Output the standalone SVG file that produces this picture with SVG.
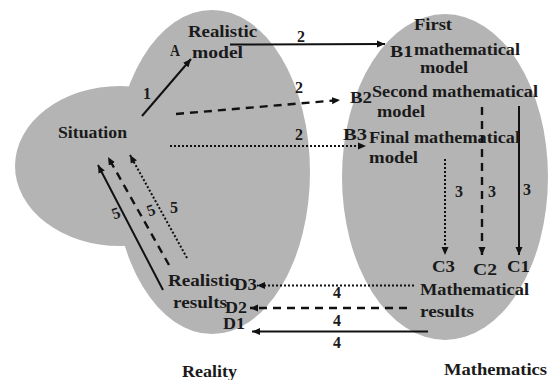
<svg xmlns="http://www.w3.org/2000/svg" width="551" height="380" viewBox="0 0 551 380">
<style>
text{font-family:"Liberation Serif","Times New Roman",serif;font-weight:bold;font-size:16px;fill:#1a1a1a}
.ln{stroke:#111;stroke-width:2;fill:none}
.da{stroke-dasharray:8 6;stroke-width:2.4}
.dt{stroke-dasharray:2 2}
.reg{fill:#b4b4b4}
</style>
<defs>
<marker id="ah" markerUnits="userSpaceOnUse" markerWidth="9" markerHeight="8" refX="8" refY="4" orient="auto"><path d="M0,0.5 L8,4 L0,7.5 z" fill="#111"/></marker>
</defs>
<rect width="551" height="380" fill="#fff"/>
<g id="reality">
<ellipse class="reg" cx="212" cy="172" rx="98" ry="162"/>
<ellipse class="reg" cx="120" cy="166" rx="105" ry="80"/>
</g>
<g id="mathematics">
<ellipse class="reg" cx="445" cy="177" rx="103" ry="163"/>
</g>
<g id="connectors">
<line class="ln" x1="142" y1="116" x2="191" y2="59" marker-end="url(#ah)"/>
<line class="ln" x1="230" y1="44.5" x2="385" y2="44" marker-end="url(#ah)"/>
<line class="ln da" x1="176" y1="114" x2="340" y2="100" marker-end="url(#ah)"/>
<line class="ln dt" x1="170" y1="146" x2="366" y2="146" marker-end="url(#ah)"/>
<line class="ln dt" x1="445" y1="159" x2="445" y2="255" marker-end="url(#ah)"/>
<line class="ln da" x1="482" y1="107" x2="482" y2="255" marker-end="url(#ah)"/>
<line class="ln" x1="519" y1="106" x2="519" y2="255" marker-end="url(#ah)"/>
<line class="ln dt" x1="414" y1="285.5" x2="257" y2="285.5" marker-end="url(#ah)"/>
<line class="ln da" x1="407" y1="308" x2="250" y2="308" marker-end="url(#ah)"/>
<line class="ln" x1="428" y1="331.5" x2="252" y2="331.5" marker-end="url(#ah)"/>
<line class="ln" x1="163" y1="290" x2="98" y2="165" marker-end="url(#ah)"/>
<line class="ln da" x1="169" y1="265" x2="108" y2="157" marker-end="url(#ah)"/>
<line class="ln dt" x1="187" y1="258" x2="130" y2="155" marker-end="url(#ah)"/>
</g>
<g id="node-realistic-model">
<text x="188" y="37" textLength="69" lengthAdjust="spacingAndGlyphs">Realistic</text>
<text x="192" y="58" textLength="51" lengthAdjust="spacingAndGlyphs">model</text>
<text x="170" y="56" textLength="10" lengthAdjust="spacingAndGlyphs">A</text>
</g>
<g id="node-situation">
<text x="58" y="138" textLength="69" lengthAdjust="spacingAndGlyphs">Situation</text>
</g>
<g id="node-first-model">
<text x="414" y="30" textLength="38" lengthAdjust="spacingAndGlyphs">First</text>
<text x="390" y="57" textLength="23" lengthAdjust="spacingAndGlyphs">B1</text>
<text x="414" y="55" textLength="106" lengthAdjust="spacingAndGlyphs">mathematical</text>
<text x="420" y="73" textLength="48" lengthAdjust="spacingAndGlyphs">model</text>
</g>
<g id="node-second-model">
<text x="350" y="103" textLength="22" lengthAdjust="spacingAndGlyphs">B2</text>
<text x="372" y="97" textLength="166" lengthAdjust="spacingAndGlyphs">Second mathematical</text>
<text x="377" y="117" textLength="48" lengthAdjust="spacingAndGlyphs">model</text>
</g>
<g id="node-final-model">
<text x="343" y="140" textLength="24" lengthAdjust="spacingAndGlyphs">B3</text>
<text x="369" y="143" textLength="151" lengthAdjust="spacingAndGlyphs">Final mathematical</text>
<text x="369" y="163" textLength="49" lengthAdjust="spacingAndGlyphs">model</text>
</g>
<g id="node-c">
<text x="432" y="272" textLength="23" lengthAdjust="spacingAndGlyphs">C3</text>
<text x="473" y="275" textLength="24" lengthAdjust="spacingAndGlyphs">C2</text>
<text x="507" y="272" textLength="23" lengthAdjust="spacingAndGlyphs">C1</text>
</g>
<g id="node-mathematical-results">
<text x="420" y="295" textLength="109" lengthAdjust="spacingAndGlyphs">Mathematical</text>
<text x="420" y="317" textLength="54" lengthAdjust="spacingAndGlyphs">results</text>
</g>
<g id="node-realistic-results">
<text x="168" y="286" textLength="70" lengthAdjust="spacingAndGlyphs">Realistic</text>
<text x="173" y="308" textLength="54" lengthAdjust="spacingAndGlyphs">results</text>
<text x="234" y="290" textLength="23" lengthAdjust="spacingAndGlyphs">D3</text>
<text x="225" y="313" textLength="22" lengthAdjust="spacingAndGlyphs">D2</text>
<text x="223" y="329" textLength="22" lengthAdjust="spacingAndGlyphs">D1</text>
</g>
<g id="labels">
<text x="143" y="99">1</text>
<text x="297" y="42">2</text>
<text x="295" y="93">2</text>
<text x="295" y="140">2</text>
<text x="455" y="197">3</text>
<text x="488" y="197">3</text>
<text x="523" y="195">3</text>
<text x="333" y="298">4</text>
<text x="333" y="326">4</text>
<text x="333" y="348">4</text>
<text x="112" y="218" transform="rotate(-20 117 213)">5</text>
<text x="147" y="215" transform="rotate(-20 152 210)">5</text>
<text x="170" y="213">5</text>
<text x="182" y="377" textLength="55" lengthAdjust="spacingAndGlyphs">Reality</text>
<text x="444" y="375" textLength="103" lengthAdjust="spacingAndGlyphs">Mathematics</text>
</g>
</svg>
